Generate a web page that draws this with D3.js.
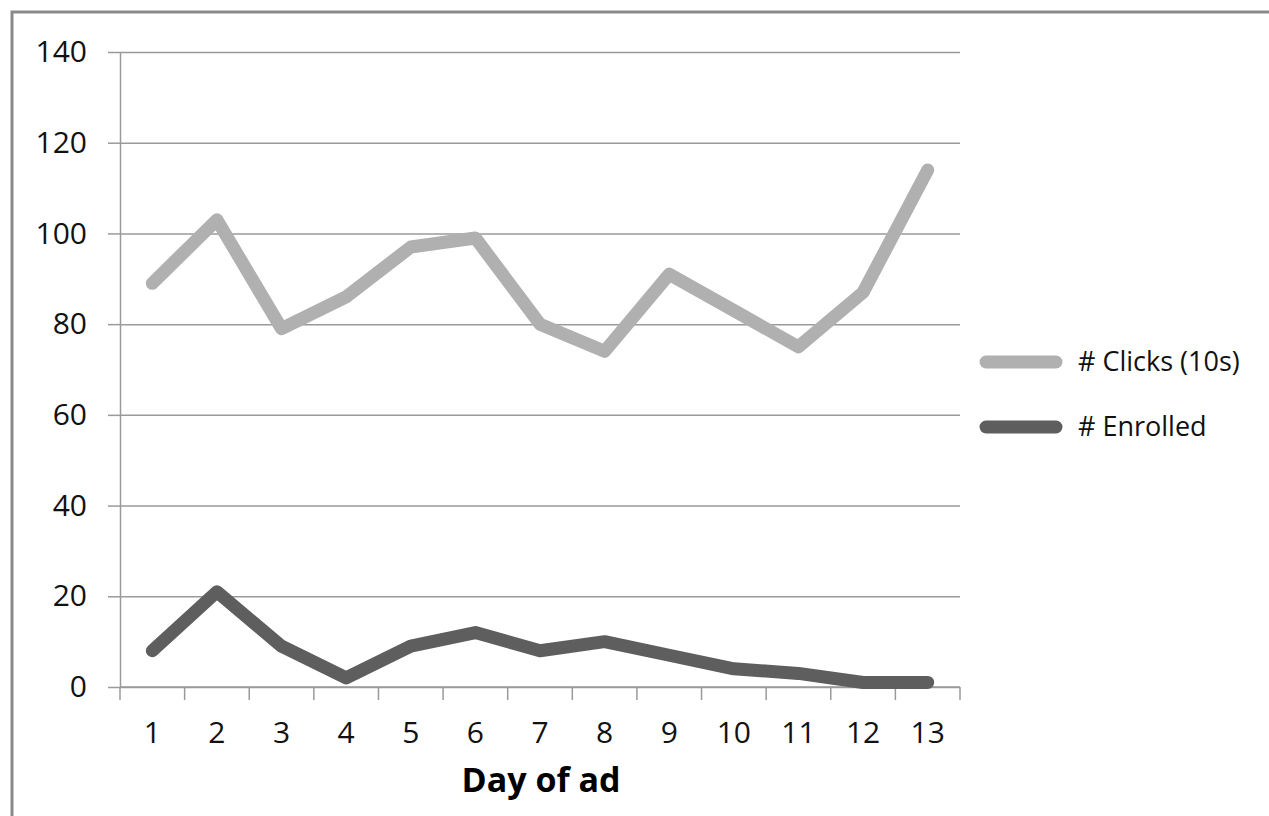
<!DOCTYPE html>
<html>
<head>
<meta charset="utf-8">
<script src="https://cdn.jsdelivr.net/npm/d3@7"></script>
<style>
  html, body { margin: 0; padding: 0; background: #fff; }
  svg { display: block; font-family: "Open Sans", "Liberation Sans", sans-serif; }
</style>
</head>
<body>
<svg id="chart" width="1269" height="816"></svg>
<script>
const days = [1, 2, 3, 4, 5, 6, 7, 8, 9, 10, 11, 12, 13];
const clicks = [89, 103, 79, 86, 97, 99, 80, 74, 91, 83, 75, 87, 114];
const enrolled = [8, 21, 9, 2, 9, 12, 8, 10, 7, 4, 3, 1, 1];
const yTicks = [0, 20, 40, 60, 80, 100, 120, 140];
const seriesNames = ["# Clicks (10s)", "# Enrolled"];
const seriesColors = ["#b0b0b0", "#5e5e5e"];
const xTitle = "Day of ad";

(function () {
const svg = d3.select("#chart");
const mLeft = 120, mRight = 960, mTop = 52, mBottom = 687;

// outer border
svg.append("rect")
  .attr("x", 12).attr("y", 12).attr("width", 1300).attr("height", 900)
  .attr("fill", "none").attr("stroke", "#8a8a8a").attr("stroke-width", 3);

const x = d3.scaleBand().domain(days).range([mLeft, mRight]).padding(0);
const y = d3.scaleLinear().domain([0, 140]).range([mBottom, mTop]);

// gridlines
const grid = svg.append("g").attr("transform", `translate(${mLeft},0)`)
  .call(d3.axisLeft(y).tickValues(yTicks).tickSize(-(mRight - mLeft)).tickFormat(""));
grid.select(".domain").remove();
grid.selectAll("line").attr("stroke", "#9a9a9a").attr("stroke-width", 1.5);

// y axis with labels and outside tick stubs
const yAx = svg.append("g").attr("transform", `translate(${mLeft},0)`)
  .call(d3.axisLeft(y).tickValues(yTicks).tickSize(12).tickSizeOuter(0).tickPadding(21));
yAx.select(".domain").attr("stroke", "#9a9a9a").attr("stroke-width", 1.5);
yAx.selectAll("line").attr("stroke", "#9a9a9a").attr("stroke-width", 1.5);
yAx.selectAll("text").attr("font-size", 30).attr("fill", "#111")
  .attr("font-family", "'Open Sans', sans-serif");

// x axis labels
const xAx = svg.append("g").attr("transform", `translate(0,${mBottom})`)
  .call(d3.axisBottom(x).tickSize(0).tickPadding(35));
xAx.select(".domain").remove();
xAx.selectAll("text").attr("font-size", 30).attr("fill", "#111")
  .attr("font-family", "'Open Sans', sans-serif");

// x boundary ticks
const bounds = days.map(d => x(d)).concat([x.range()[1]]);
svg.append("g").selectAll("line").data(bounds).join("line")
  .attr("x1", d => d).attr("x2", d => d)
  .attr("y1", mBottom).attr("y2", mBottom + 13)
  .attr("stroke", "#9a9a9a").attr("stroke-width", 1.5);
svg.append("line").attr("x1", mLeft).attr("x2", mRight).attr("y1", mBottom).attr("y2", mBottom)
  .attr("stroke", "#9a9a9a").attr("stroke-width", 1.5);

// x title
svg.append("text").attr("x", 541).attr("y", 792)
  .attr("text-anchor", "middle").attr("font-weight", "bold")
  .attr("font-size", 34).attr("fill", "#000").text(xTitle);

// lines
const line = d3.line().x((d, i) => x(days[i]) + x.bandwidth() / 2).y(d => y(d));
[clicks, enrolled].forEach((s, i) => {
  svg.append("path").datum(s).attr("d", line)
    .attr("fill", "none").attr("stroke", seriesColors[i]).attr("stroke-width", 13)
    .attr("stroke-linejoin", "round").attr("stroke-linecap", "round");
});

// legend
const lg = svg.append("g");
const legendY = [362, 427];
seriesNames.forEach((n, i) => {
  lg.append("line").attr("x1", 986).attr("x2", 1056)
    .attr("y1", legendY[i]).attr("y2", legendY[i])
    .attr("stroke", seriesColors[i]).attr("stroke-width", 13).attr("stroke-linecap", "round");
  lg.append("text").attr("x", 1078).attr("y", legendY[i] + 9)
    .attr("font-size", 27).attr("fill", "#111").text(n);
});
})();
</script>
</body>
</html>
